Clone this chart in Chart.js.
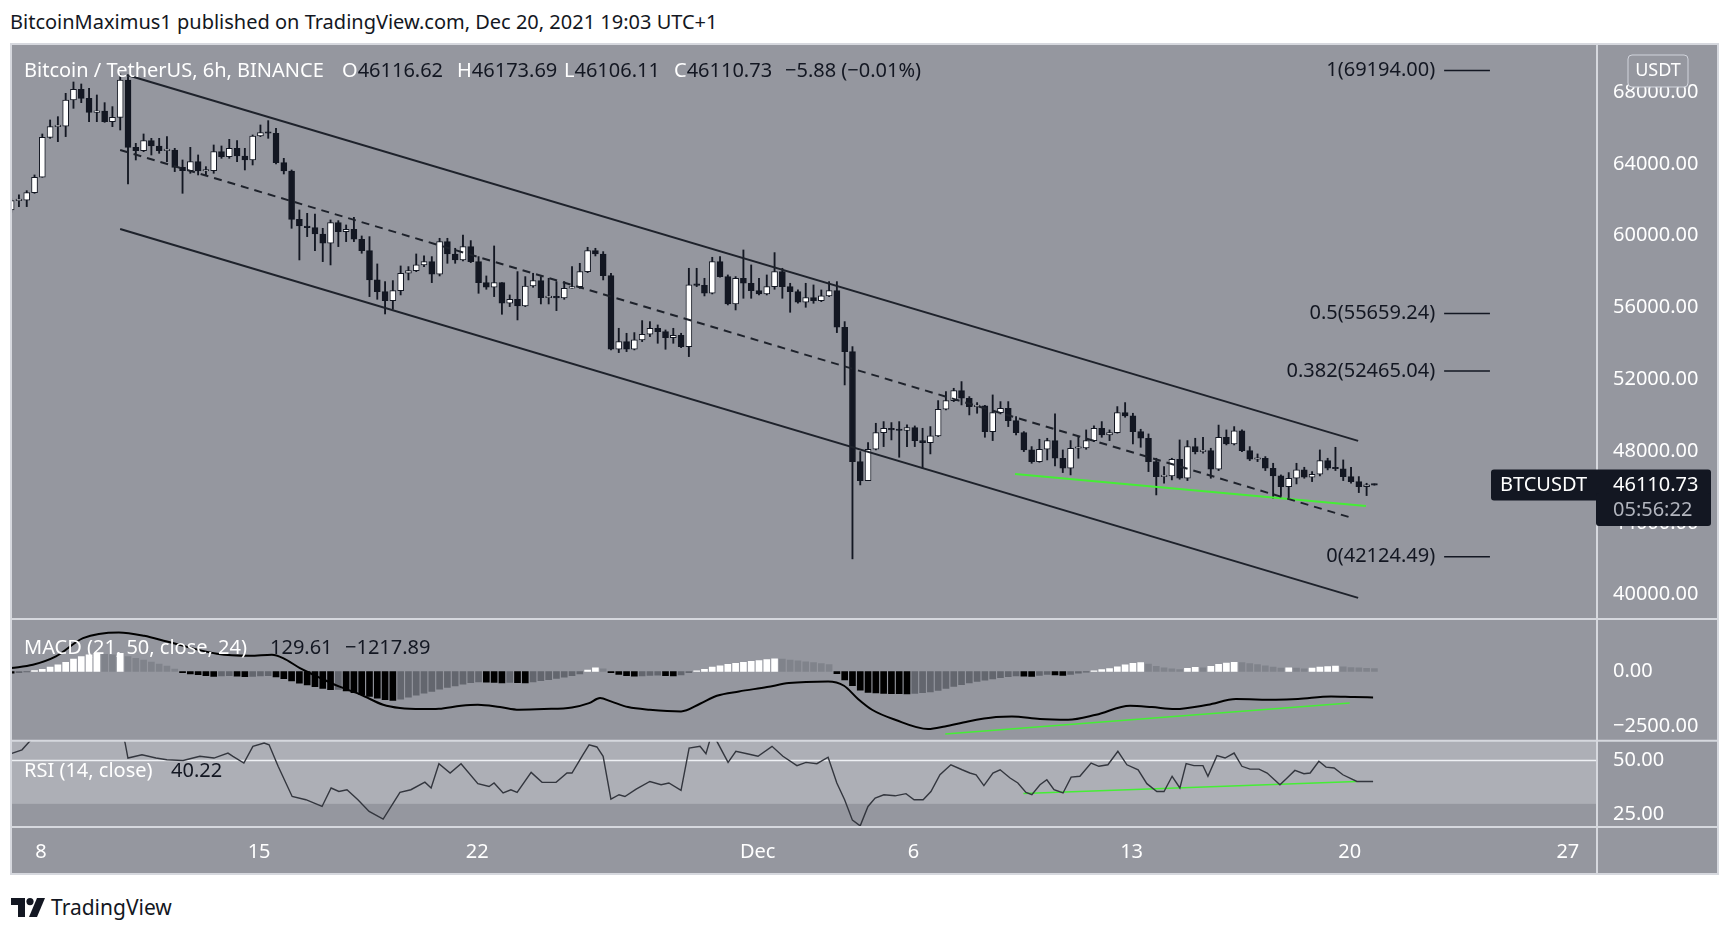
<!DOCTYPE html>
<html>
<head>
<meta charset="utf-8">
<script src="https://cdn.jsdelivr.net/npm/chart.js@4.4.1/dist/chart.umd.min.js"></script>
<style>
  html, body { margin: 0; padding: 0; background: #ffffff; width: 1728px; height: 927px; overflow: hidden; }
  body { font-family: 'Noto Sans', sans-serif; color: #131722; }
  #c { position: absolute; left: 10px; top: 43px; }
  .t { position: absolute; white-space: nowrap; line-height: 26px; height: 26px; font-size: 20px; color: #131722; }
  .w { color: #ffffff; }
</style>
</head>
<body>
<div class="t" style="left:10px; top:9px;">BitcoinMaximus1 published on TradingView.com, Dec 20, 2021 19:03 UTC+1</div>

<canvas id="c" width="1709" height="832"></canvas>

<!-- legend rows -->
<div class="t w" style="left:24px; top:57px;">Bitcoin / TetherUS, 6h, BINANCE</div>
<div class="t" style="left:342px; top:57px;"><span class="w">O</span>46116.62</div>
<div class="t" style="left:457px; top:57px;"><span class="w">H</span>46173.69</div>
<div class="t" style="left:564px; top:57px;"><span class="w">L</span>46106.11</div>
<div class="t" style="left:674px; top:57px;"><span class="w">C</span>46110.73</div>
<div class="t" style="left:785px; top:57px;">−5.88 (−0.01%)</div>

<div class="t w" style="left:24px; top:634px;">MACD (21, 50, close, 24)</div>
<div class="t" style="left:270px; top:634px;">129.61</div>
<div class="t" style="left:345px; top:634px;">−1217.89</div>

<div class="t w" style="left:24px; top:757px;">RSI (14, close)</div>
<div class="t" style="left:171px; top:757px;">40.22</div>

<svg style="position:absolute; left:11px; top:898px;" width="34" height="19" viewBox="0 0 34 19">
  <path d="M0 0h14v19h-7V7H0z" fill="#131722"/>
  <circle cx="19" cy="3.6" r="3.6" fill="#131722"/>
  <path d="M26 0h8l-8 19h-8z" fill="#131722"/>
</svg>
<div class="t" style="left:51px; top:894px; font-size:21px;">TradingView</div>

<script>
// 6h candles, time in days from Nov 8 00:00 (local)
const CANDLE_T0 = -0.958;
const CANDLE_STEP = 0.25;

const OPEN = [61430,61950,61980,62395,63250,65476,66070,66100,67555,68149,67648,66868,66942,66348,66590,68668,64919,64734,65290,64993,
  64734,64771,63806,63620,64121,63602,63620,64678,64400,64864,64437,64214,65550,65736,65700,64066,63602,60910,60539,60450,
  60094,59574,60725,60224,60354,59797,59166,57533,56883,56382,56939,57904,58052,58368,58553,57848,59667,58980,58646,59389,
  58553,57384,57124,57384,56233,56456,56085,57198,57496,56549,56560,56530,57069,57161,57997,59166,58980,57774,53672,54099,
  53672,54192,54507,54841,54656,54322,54451,53820,57254,57230,56790,58553,57718,56196,57625,57347,56939,56753,57161,57997,
  57161,56883,56289,56549,56382,56642,56939,54897,53542,47417,46360,48104,49032,49273,49181,49150,49310,48587,48475,48846,
  50331,50813,51370,50944,50480,50517,49088,50146,50387,49700,49032,48067,47417,48104,48586,47603,47046,48160,48180,48587,
  49273,48902,49032,50146,49960,49088,48716,47417,46582,46620,47547,46490,48252,47974,48030,46990,48772,48401,49125,48030,
  47547,47603,47046,46620,46025,46490,46954,46545,46712,47473,47046,47020,46582,46304,46025,46117];
const HIGH = [62050,62270,62505,63380,65662,66441,66626,67926,68557,68446,68204,67833,67406,67184,69000,68854,65142,65662,65420,65420,
  65513,64863,64214,64919,64493,63843,65049,64993,65365,65290,64864,65606,66163,66404,65977,64307,63657,61430,61244,61207,
  60409,60873,60836,60595,61021,59982,59945,58424,57440,57495,58312,58275,58980,58869,58832,59853,59853,59296,60038,59723,
  58832,57755,59426,57384,56697,57997,57718,57904,57718,57625,57440,57440,58275,58460,59352,59296,59110,57904,54841,54563,
  54600,55268,55212,55027,54748,54841,54563,58182,58182,57625,58795,58832,57811,57718,59203,58368,57625,57811,59055,58182,
  57347,56976,57347,57254,56976,57440,57440,55212,53820,47974,48475,49551,49644,49589,49644,49459,49403,49273,49366,50813,
  51315,51500,51872,51036,50703,50550,51130,50758,50758,49923,49088,48252,48661,48716,50072,48067,48587,48809,49181,49403,
  49644,49181,50480,50703,50109,49218,48958,47603,47139,47603,48623,48586,48716,48772,48160,49450,49181,49366,49181,48252,
  47844,47696,47324,46675,46805,47324,47101,46860,48067,47603,48215,47510,47101,46582,46211,46174];
const LOW = [61300,61620,61616,62358,63250,65420,65235,65514,67090,67406,66348,66348,66311,66070,65884,62878,64214,64678,64492,64585,
  64121,63565,62358,63472,63379,63379,63472,64307,64307,64121,63657,63936,65513,65420,63991,63434,60409,58646,59945,59166,
  58553,58368,59389,59667,59667,59018,56605,56456,55639,55899,56698,57533,57996,58275,57384,57755,58460,58460,58590,58498,
  56790,57013,56605,55621,56048,55305,56048,57124,56196,56196,55825,56456,57069,57069,57941,58869,57533,53635,53487,53542,
  53635,54099,54377,54006,53672,54006,53765,53264,57161,56642,56753,57681,56141,55862,56512,56512,56698,56698,57013,56512,
  55732,56233,56011,56233,56326,56605,54600,51686,42000,46118,46360,48067,48252,48624,47659,48252,48252,47046,47845,48809,
  50294,50758,50573,50016,50109,48772,48587,50072,49366,48902,47974,47324,47380,47510,47175,46805,46675,47603,48104,48530,
  48772,48587,49001,49886,48401,48215,46860,45561,46211,46397,46434,46360,47844,47881,46490,46916,48345,48345,47974,47473,
  47417,46917,45376,45506,45376,46174,46490,46304,46619,46954,46917,46360,46211,45691,45524,46106];
const CLOSE = [61950,61980,62395,63250,65476,66070,66100,67555,68149,67648,66868,66942,66348,66590,68668,64919,64734,65290,64993,64734,
  64771,63806,63620,64121,63602,63620,64678,64400,64864,64437,64214,65550,65736,65700,64066,63602,60910,60539,60450,60094,
  59574,60725,60224,60354,59797,59166,57533,56883,56382,56939,57904,58052,58368,58553,57848,59667,58980,58646,59389,58553,
  57384,57124,57384,56233,56456,56085,57198,57496,56549,56560,56530,57069,57161,57997,59166,58980,57774,53672,54099,53672,
  54192,54507,54841,54656,54322,54451,53820,57254,57230,56790,58553,57718,56196,57625,57347,56939,56753,57161,57997,57161,
  56883,56289,56549,56382,56642,56939,54897,53542,47417,46360,48104,49032,49273,49181,49150,49310,48587,48475,48846,50331,
  50813,51370,50944,50480,50517,49088,50146,50387,49700,49032,48067,47417,48104,48586,47603,47046,48160,48180,48587,49273,
  48902,49032,50146,49960,49088,48716,47417,46582,46620,47547,46490,48252,47974,48030,46990,48772,48401,49125,48030,47547,
  47603,47046,46620,46025,46490,46954,46545,46712,47473,47046,47020,46582,46304,46025,46117,46110.73];

// MACD histogram, one bar per candle
const HIST = [-80,-50,-20,40,100,200,300,420,560,680,760,820,780,760,830,680,600,520,430,340,
  240,110,-60,-110,-150,-190,-220,-200,-190,-210,-240,-220,-200,-190,-250,-330,-430,-530,-610,-690,
  -770,-830,-820,-890,-970,-1050,-1140,-1220,-1280,-1320,-1260,-1170,-1080,-990,-910,-810,-730,-660,-580,-510,
  -470,-490,-500,-520,-500,-510,-520,-470,-420,-370,-320,-260,-190,-110,60,170,120,-60,-140,-190,
  -210,-200,-180,-170,-190,-200,-160,-60,30,100,200,260,320,370,420,460,500,540,580,560,
  520,480,440,400,360,310,-100,-380,-650,-850,-950,-980,-1000,-1010,-1015,-1020,-1000,-970,-930,-860,
  -770,-680,-600,-520,-450,-400,-340,-280,-240,-200,-210,-230,-180,-140,-160,-180,-130,-80,-30,30,
  80,130,210,300,370,400,330,230,160,120,90,140,190,170,230,320,380,420,400,360,
  310,260,200,150,170,150,120,150,200,220,240,210,180,160,140,130];

// MACD line, read at turning points (days, value)
const MACD_T = [-0.96,-0.26,0.48,1.35,2.50,3.31,4.04,5.65,6.71,7.41,7.77,8.31,8.86,9.56,10.27,10.98,11.52,12.23,12.77,13.48,
  14.02,14.73,15.34,16.14,17.04,17.59,17.94,18.29,18.84,19.54,20.54,21.15,21.69,22.40,23.30,24.00,25.26,25.77,26.22,26.67,
  27.41,28.47,29.01,29.75,30.65,31.16,32.06,32.96,33.86,34.95,35.65,36.39,37.45,38.35,39.63,40.34,41.40,42.14,42.75];
const MACD_V = [153,304,683,1516,1774,1622,1365,804,713,759,607,153,-226,-680,-1059,-1514,-1665,-1711,-1695,-1559,
  -1514,-1620,-1741,-1711,-1635,-1438,-1211,-1362,-1620,-1741,-1817,-1468,-1105,-908,-711,-529,-453,-650,-1250,-1741,
  -2196,-2620,-2499,-2271,-2074,-2044,-2165,-2196,-1968,-1559,-1620,-1711,-1514,-1256,-1287,-1256,-1135,-1165,-1181];

// RSI line, read at turning points (days, value)
const RSI_T = [-0.96,-0.61,-0.32,0.13,0.61,1.25,1.73,2.05,2.37,2.57,2.70,2.79,3.24,3.69,4.04,4.56,5.10,5.55,6.00,6.16,
  6.51,6.80,7.16,7.32,7.61,8.06,8.50,9.02,9.31,9.56,9.82,10.17,10.53,10.98,11.52,11.87,12.32,12.52,12.77,13.13,
  13.48,14.02,14.38,14.54,14.83,15.08,15.28,15.73,16.08,16.53,16.88,17.04,17.39,17.59,17.84,18.04,18.29,18.55,18.74,19.10,
  19.54,19.90,20.15,20.54,20.80,21.15,21.34,21.50,21.69,22.05,22.30,22.66,23.01,23.46,23.81,24.26,24.55,24.90,25.26,25.54,
  25.79,26.04,26.29,26.54,26.77,27.05,27.41,27.76,28.02,28.31,28.56,28.85,29.20,29.56,29.81,30.01,30.26,30.55,30.78,31.10,
  31.35,31.61,31.80,32.06,32.28,32.51,32.80,33.06,33.34,33.70,33.95,34.24,34.56,34.85,35.21,35.49,35.81,36.04,36.30,36.55,
  36.75,37.00,37.29,37.45,37.74,38.00,38.29,38.54,38.80,39.09,39.35,39.76,39.99,40.24,40.53,40.73,41.01,41.24,41.50,41.78,
  42.23,42.75];
const RSI_V = [53.1,54.9,59.5,63,68,74,70,66,70,64,58.0,51.1,52.6,51.1,50.3,50.0,51.9,51.1,53.4,51.9,
  48.8,56.5,58.0,57.2,47.3,33.4,31.9,28.8,37.3,35.7,36.5,31.9,26.5,23.0,35.3,36.5,40.0,37.3,48.5,44.2,
  48.5,39.3,38.0,39.6,35.0,36.5,35.3,44.5,39.9,39.9,44.2,44.2,52.6,57.2,56.2,51.9,32.2,34.2,33.4,36.8,
  40.3,38.8,39.6,36.2,55.7,56.5,53.1,61,58.8,49.1,54.2,53.1,51.9,56.5,51.9,47.6,49.1,48.5,51.5,39.6,
  31.9,22.5,19.9,28.8,32.7,34.2,33.7,34.7,31.9,31.9,35.7,43.4,48.0,45.7,44.2,43.4,38.4,44.2,45.7,41.9,
  39.6,35.3,34.2,38.8,41.1,36.5,35.0,42.3,42.7,48.8,47.3,48.0,54.2,48.0,45.7,39.3,35.7,35.7,42.7,37.3,
  48.5,47.6,47.6,42.7,52.2,51.1,53.4,47.3,46.0,46.0,44.2,38.8,41.9,45.4,43.9,44.2,49.6,46.9,46.5,43.4,
  40.3,40.3];

// drawings (days, price / indicator value)
const UPPER_T = [2.76, 42.27],  UPPER_P = [68950, 48570];
const LOWER_T = [2.54, 42.27],  LOWER_P = [60372, 39826];
const MID_T = [2.54, 42.07],    MID_P = [64770, 44281];
const GREEN_T = [31.26, 42.52], GREEN_P = [46731, 44949];
const MACD_GREEN_T = [29.02, 42.0], MACD_GREEN_V = [-2845, -1436];
const RSI_GREEN_T = [31.53, 42.22], RSI_GREEN_V = [34.8, 40.3];

const FIB_RATIOS = ['1', '0.5', '0.382', '0'];
const FIB_LEVELS = [69194.00, 55659.24, 52465.04, 42124.49];
const FIB_T = [45.03, 46.50];

const PRICE_TICKS = [40000, 44000, 48000, 52000, 56000, 60000, 64000, 68000];
const MACD_TICKS = [-2500, 0];
const RSI_TICKS = [25, 50];
const RSI_BAND = [30, 70];
const RSI_MID = 50;
const DATE_TICKS = [0, 7, 14, 23, 28, 35, 42, 49];
const DATE_LABELS = ['8', '15', '22', 'Dec', '6', '13', '20', '27'];

const BG = '#95979f';
const BAND = '#adafb6';
const LINE_LIGHT = '#d6d8de';
const DARK = '#131722';
const GREEN = '#45ee35';
const FONT = "'Noto Sans', sans-serif";

const candleT = OPEN.map((_, i) => CANDLE_T0 + i * CANDLE_STEP);
const lastClose = CLOSE[CLOSE.length - 1];

function fmt(v) {
  return v.toFixed(2).replace('-', '\u2212');
}

function histColor(v, i) {
  const prev = i > 0 ? HIST[i - 1] : v;
  if (v >= 0) return v >= prev ? '#ffffff' : '#80838b';
  return v <= prev ? '#000000' : '#63666e';
}

function segment(ts, vs, axis, color, width, dash) {
  return {
    type: 'line',
    yAxisID: axis,
    data: ts.map((t, i) => ({x: t, y: vs[i]})),
    borderColor: color,
    borderWidth: width,
    borderDash: dash || [],
    pointRadius: 0,
    fill: false,
    order: -1
  };
}

function roundRect(ctx, x, y, w, h, r) {
  ctx.beginPath();
  ctx.moveTo(x + r, y);
  ctx.lineTo(x + w - r, y);
  ctx.quadraticCurveTo(x + w, y, x + w, y + r);
  ctx.lineTo(x + w, y + h - r);
  ctx.quadraticCurveTo(x + w, y + h, x + w - r, y + h);
  ctx.lineTo(x + r, y + h);
  ctx.quadraticCurveTo(x, y + h, x, y + h - r);
  ctx.lineTo(x, y + r);
  ctx.quadraticCurveTo(x, y, x + r, y);
  ctx.closePath();
}

// no label padding around panes: the panes fill the canvas edge to edge
function noPad(s) {
  s.paddingTop = 0;
  s.paddingBottom = 0;
  s.paddingLeft = 0;
  s.paddingRight = 0;
}

const tvPanes = {
  id: 'tvPanes',
  beforeDraw(chart) {
    const ctx = chart.ctx;
    ctx.save();
    ctx.fillStyle = BG;
    ctx.fillRect(0, 0, chart.width, chart.height);
    ctx.restore();
  },
  beforeDatasetsDraw(chart) {
    const ctx = chart.ctx, area = chart.chartArea, r = chart.scales.yRsi;
    ctx.save();
    ctx.beginPath();
    ctx.rect(area.left, r.top, area.width, r.bottom - r.top);
    ctx.clip();
    const yTop = r.getPixelForValue(RSI_BAND[1]);
    const yBot = r.getPixelForValue(RSI_BAND[0]);
    ctx.fillStyle = BAND;
    ctx.fillRect(area.left, yTop, area.width, yBot - yTop);
    const y50 = Math.round(r.getPixelForValue(RSI_MID)) + 0.5;
    ctx.strokeStyle = '#eef0f4';
    ctx.lineWidth = 1.5;
    ctx.beginPath();
    ctx.moveTo(area.left, y50);
    ctx.lineTo(area.right, y50);
    ctx.stroke();
    ctx.restore();
  },
  // keep each dataset inside its own pane
  beforeDatasetDraw(chart, args) {
    const ctx = chart.ctx, area = chart.chartArea, ys = args.meta.yScale;
    ctx.save();
    ctx.beginPath();
    ctx.rect(area.left, ys.top, area.width, ys.bottom - ys.top);
    ctx.clip();
  },
  afterDatasetDraw(chart) {
    chart.ctx.restore();
  },
  afterDatasetsDraw(chart) {
    const ctx = chart.ctx, x = chart.scales.x, y = chart.scales.y;
    ctx.save();
    ctx.font = '20px ' + FONT;
    ctx.fillStyle = DARK;
    ctx.textAlign = 'right';
    ctx.textBaseline = 'middle';
    const lx = x.getPixelForValue(FIB_T[0]) - 9;
    FIB_LEVELS.forEach((lvl, i) => {
      ctx.fillText(FIB_RATIOS[i] + '(' + lvl.toFixed(2) + ')', lx, y.getPixelForValue(lvl));
    });
    ctx.restore();
  },
  afterDraw(chart) {
    const ctx = chart.ctx, area = chart.chartArea, W = chart.width, H = chart.height;
    const y = chart.scales.y, m = chart.scales.yMacd, r = chart.scales.yRsi;
    ctx.save();
    ctx.strokeStyle = LINE_LIGHT;
    ctx.lineWidth = 2;
    [m.top, r.top, area.bottom].forEach(py => {
      ctx.beginPath();
      ctx.moveTo(0, py);
      ctx.lineTo(W, py);
      ctx.stroke();
    });
    ctx.beginPath();
    ctx.moveTo(area.right, 0);
    ctx.lineTo(area.right, H);
    ctx.stroke();
    ctx.strokeRect(1, 1, W - 2, H - 2);

    // USDT currency box
    roundRect(ctx, area.right + 31, 12, 60, 32, 4);
    ctx.fillStyle = BG;
    ctx.fill();
    ctx.lineWidth = 1;
    ctx.strokeStyle = '#d1d4dc';
    ctx.stroke();
    ctx.fillStyle = '#ffffff';
    ctx.font = '18px ' + FONT;
    ctx.textAlign = 'center';
    ctx.textBaseline = 'middle';
    ctx.fillText('USDT', area.right + 61, 28);

    // last price label
    const py = y.getPixelForValue(lastClose);
    ctx.fillStyle = DARK;
    roundRect(ctx, area.right - 106, py - 15.5, 220, 31, 3);
    ctx.fill();
    roundRect(ctx, area.right - 1, py + 8, 115, 33, 3);
    ctx.fill();
    ctx.textAlign = 'left';
    ctx.font = '20px ' + FONT;
    ctx.fillStyle = '#ffffff';
    ctx.fillText('BTCUSDT', area.right - 97, py);
    ctx.fillText(fmt(lastClose), area.right + 16, py);
    ctx.fillStyle = '#b2b5be';
    ctx.fillText('05:56:22', area.right + 16, py + 25);
    ctx.restore();
  }
};

const yCommon = {
  type: 'linear',
  axis: 'y',
  position: 'right',
  stack: 'panes',
  grid: {display: false, drawTicks: false},
  border: {display: false},
  ticks: {color: '#ffffff', padding: 16, font: {family: FONT, size: 20}, callback: v => fmt(v)},
  afterFit: s => { s.width = 122; noPad(s); }
};

new Chart(document.getElementById('c'), {
  type: 'bar',
  data: {
    datasets: [
      {
        type: 'bar', yAxisID: 'y', grouped: false, order: 3,
        data: candleT.map((t, i) => ({x: t, y: [LOW[i], HIGH[i]]})),
        backgroundColor: DARK, barThickness: 1.2, borderWidth: 0
      },
      {
        type: 'bar', yAxisID: 'y', grouped: false, order: 2,
        data: candleT.map((t, i) => ({x: t, y: [OPEN[i], CLOSE[i]]})),
        backgroundColor: CLOSE.map((c, i) => c >= OPEN[i] ? '#ffffff' : DARK),
        borderColor: DARK, borderWidth: 1, borderSkipped: false,
        barThickness: 6, minBarLength: 1.5
      },
      {
        type: 'bar', yAxisID: 'yMacd', grouped: false, order: 2,
        data: candleT.map((t, i) => ({x: t, y: HIST[i]})),
        backgroundColor: HIST.map(histColor), borderWidth: 0, barThickness: 6
      },
      Object.assign(segment(MACD_T, MACD_V, 'yMacd', '#000000', 2), {cubicInterpolationMode: 'monotone'}),
      Object.assign(segment(RSI_T, RSI_V, 'yRsi', '#33363e', 1.4), {tension: 0}),
      segment(UPPER_T, UPPER_P, 'y', '#1e222b', 2),
      segment(LOWER_T, LOWER_P, 'y', '#1e222b', 2),
      segment(MID_T, MID_P, 'y', '#1e222b', 2, [8, 6]),
      segment(GREEN_T, GREEN_P, 'y', GREEN, 2),
      segment(MACD_GREEN_T, MACD_GREEN_V, 'yMacd', GREEN, 1.5),
      segment(RSI_GREEN_T, RSI_GREEN_V, 'yRsi', GREEN, 1.5),
      ...FIB_LEVELS.map(l => segment(FIB_T, [l, l], 'y', DARK, 1.5))
    ]
  },
  options: {
    responsive: false,
    animation: false,
    events: [],
    layout: {padding: 0},
    plugins: {legend: {display: false}, tooltip: {enabled: false}},
    scales: {
      x: {
        type: 'linear', position: 'bottom', min: -0.995, max: 49.936, offset: false,
        grid: {display: false, drawTicks: false}, border: {display: false},
        ticks: {
          color: '#ffffff', padding: 13, autoSkip: false, maxRotation: 0,
          font: {family: FONT, size: 20},
          callback: v => DATE_LABELS[DATE_TICKS.indexOf(v)]
        },
        afterBuildTicks: s => { s.ticks = DATE_TICKS.map(v => ({value: v})); },
        afterFit: s => { s.height = 48; noPad(s); }
      },
      y: Object.assign({}, yCommon, {
        min: 38647, max: 70728, stackWeight: 576.3,
        afterBuildTicks: s => { s.ticks = PRICE_TICKS.map(v => ({value: v})); }
      }),
      yMacd: Object.assign({}, yCommon, {
        min: -3150, max: 2382, stackWeight: 121.7,
        afterBuildTicks: s => { s.ticks = MACD_TICKS.map(v => ({value: v})); }
      }),
      yRsi: Object.assign({}, yCommon, {
        min: 19.34, max: 59.07, stackWeight: 86.3,
        afterBuildTicks: s => { s.ticks = RSI_TICKS.map(v => ({value: v})); }
      })
    }
  },
  plugins: [tvPanes]
});
</script>
</body>
</html>
